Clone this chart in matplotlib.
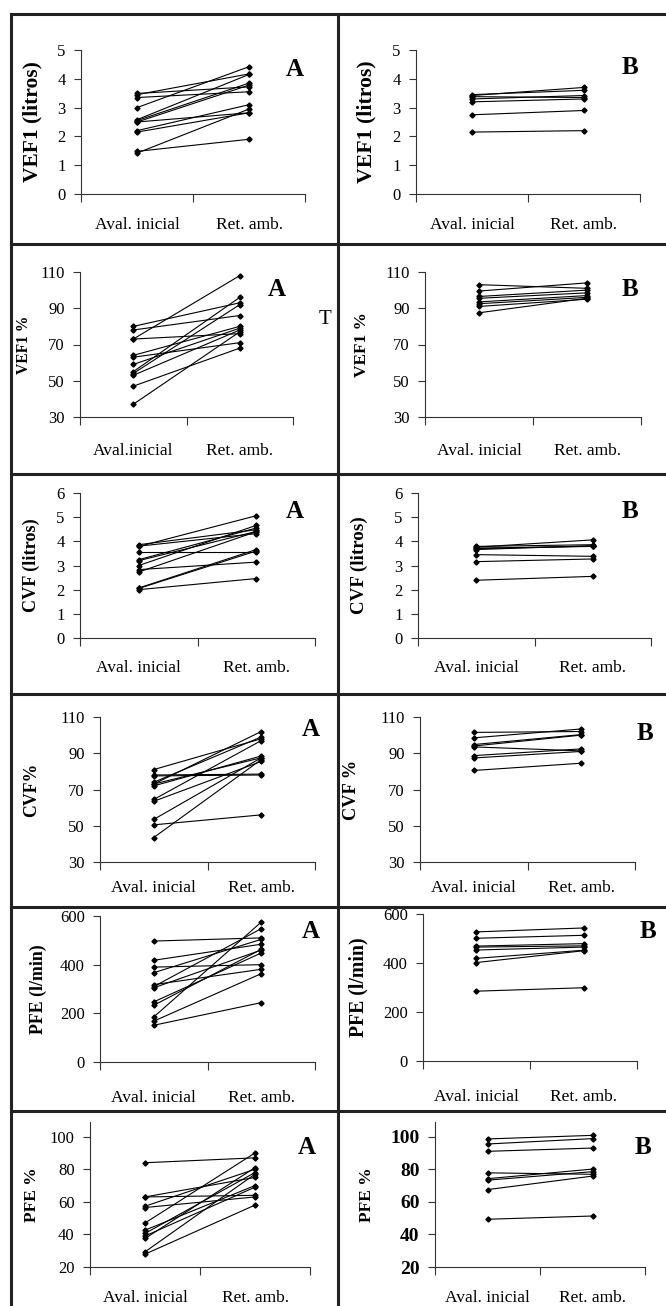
import matplotlib
matplotlib.use("Agg")
import matplotlib.pyplot as plt
from matplotlib.lines import Line2D

# ---------------- data ----------------
categories = ["Aval. inicial", "Ret. amb."]
categories_2a = ["Aval.inicial", "Ret. amb."]

vef1_A_ini = [3.49, 3.45, 3.35, 3.00, 2.58, 2.55, 2.50, 2.50, 2.20, 2.15, 1.48, 1.42]
vef1_A_ret = [3.72, 4.17, 3.55, 4.42, 4.15, 3.85, 3.78, 2.82, 3.10, 2.82, 1.90, 2.95]
vef1_B_ini = [3.45, 3.42, 3.38, 3.30, 3.20, 2.75, 2.15]
vef1_B_ret = [3.60, 3.70, 3.35, 3.42, 3.30, 2.90, 2.20]

vef1p_A_ini = [80, 78, 73, 73, 64, 63, 59, 55, 54, 53, 47, 37]
vef1p_A_ret = [93, 86, 108, 76, 80, 71, 79, 96, 92, 78, 68, 77]
vef1p_B_ini = [103, 99.5, 96.5, 95.5, 93.5, 92.5, 91, 87.5]
vef1p_B_ret = [101, 104, 100, 98.5, 97, 96, 95, 95.5]

cvf_A_ini = [3.86, 3.79, 3.80, 3.56, 3.24, 3.20, 3.00, 2.83, 2.73, 2.07, 2.00, 2.05]
cvf_A_ret = [4.48, 5.06, 4.32, 3.56, 4.55, 4.41, 4.66, 3.14, 4.40, 3.66, 2.46, 3.60]
cvf_B_ini = [3.79, 3.76, 3.72, 3.66, 3.45, 3.16, 2.39, 3.70]
cvf_B_ret = [3.86, 4.06, 3.79, 3.82, 3.38, 3.27, 2.55, 3.80]

cvfp_A_ini = [81, 78, 77.5, 74, 73, 72, 64.5, 63.5, 53.5, 50.5, 43.5, 73]
cvfp_A_ret = [98, 78.5, 78, 99, 102, 88.5, 97, 85.5, 87.5, 56, 86.5, 87.5]
cvfp_B_ini = [101.5, 98.5, 94.8, 94, 93.5, 88.7, 87.4, 80.5]
cvfp_B_ret = [102, 103.4, 100.3, 100, 91.3, 92.4, 91, 84.5]

pfe_A_ini = [497, 418, 390, 367, 318, 310, 305, 247, 233, 185, 168, 151]
pfe_A_ret = [510, 484, 400, 504, 381, 548, 460, 448, 463, 575, 363, 244]
pfe_B_ini = [527, 501, 469, 465, 453, 419, 402, 285]
pfe_B_ret = [543, 513, 479, 470, 465, 452, 450, 299]

pfep_A_ini = [84, 63, 63, 57.3, 56.5, 47, 42.6, 40.6, 39, 37.5, 29.3, 27.9]
pfep_A_ret = [87, 75, 64, 80, 63, 90, 70, 78, 69, 81, 77, 58]
pfep_B_ini = [98.6, 95.5, 91, 77.8, 74.2, 73.3, 67.5, 49.3]
pfep_B_ret = [100.8, 98.8, 93, 76.9, 80.1, 78.5, 75.8, 51.3]

ylabels = ["VEF1 (litros)", "VEF1 %", "CVF (litros)", "CVF%", "PFE (l/min)", "PFE %"]
ylabels_B = ["VEF1 (litros)", "VEF1 %", "CVF (litros)", "CVF %", "PFE (l/min)", "PFE %"]
yticks_rows = [[0, 1, 2, 3, 4, 5], [30, 50, 70, 90, 110], [0, 1, 2, 3, 4, 5, 6],
               [30, 50, 70, 90, 110], [0, 200, 400, 600], [20, 40, 60, 80, 100]]
ylims_rows = [(0, 5), (30, 110), (0, 6), (30, 110), (0, 600), (20, 109)]

# ---------------- layout ----------------
W, H = 666, 1306
fig = plt.figure(figsize=(W / 100, H / 100), dpi=100)
fig.patch.set_facecolor("white")
SERIF = ["Liberation Serif", "DejaVu Serif"]


def px_axes(x0, y0, x1, y1):
    return fig.add_axes([x0 / W, 1 - y1 / H, (x1 - x0) / W, (y1 - y0) / H])


# pixel boxes of each axes (left, top, right, bottom)
boxes = [
    [(81, 50, 305, 194), (416, 50, 640, 194)],
    [(80, 272, 293, 417), (425, 272, 641, 417)],
    [(80, 493, 315, 638), (418, 493, 651, 638)],
    [(100, 717, 315, 862), (420, 717, 635, 862)],
    [(100, 916, 315, 1062), (423, 914, 637, 1061)],
    [(90, 1122, 310, 1267), (435, 1122, 645, 1267)],
]
label_x = [[42, 376], [32, 370], [40, 368], [40, 360], [47, 368], [40, 375]]
label_size = [[15.5, 15.7], [11.2, 12.4], [13.1, 13.7], [12.8, 13.2], [12.9, 14.2], [12.5, 12.5]]
xlab_pad = [16.9, 18.4, 16.2, 13.3, 20.5, 16.2]
letter_pos = [[(295, 70), (630, 68)], [(277, 290), (630, 290)], [(295, 512), (630, 512)],
              [(311, 730), (645, 733)], [(311, 932), (648, 932)], [(307, 1147), (643, 1147)]]

data = [
    [(vef1_A_ini, vef1_A_ret), (vef1_B_ini, vef1_B_ret)],
    [(vef1p_A_ini, vef1p_A_ret), (vef1p_B_ini, vef1p_B_ret)],
    [(cvf_A_ini, cvf_A_ret), (cvf_B_ini, cvf_B_ret)],
    [(cvfp_A_ini, cvfp_A_ret), (cvfp_B_ini, cvfp_B_ret)],
    [(pfe_A_ini, pfe_A_ret), (pfe_B_ini, pfe_B_ret)],
    [(pfep_A_ini, pfep_A_ret), (pfep_B_ini, pfep_B_ret)],
]

axis_col = "#333333"
for r in range(6):
    for c in range(2):
        x0, y0, x1, y1 = boxes[r][c]
        ax = px_axes(x0, y0, x1, y1)
        ini, ret = data[r][c]
        for a, b in zip(ini, ret):
            ax.plot([0, 1], [a, b], color="black", lw=0.8, marker="D", ms=2.6,
                    mec="black", mfc="black", solid_capstyle="butt")
        ax.set_xlim(-0.5, 1.5)
        ax.set_ylim(*ylims_rows[r])
        ax.set_yticks(yticks_rows[r])
        cats = categories_2a if (r == 1 and c == 0) else categories
        ax.set_xticks([0, 1])
        ax.set_xticklabels(cats)
        ax.set_xticks([-0.5, 0.5, 1.5], minor=True)
        ax.tick_params(axis="x", which="major", length=0, pad=xlab_pad[r], labelsize=12.5)
        ax.tick_params(axis="x", which="minor", length=6, width=0.8, color=axis_col, direction="out")
        ax.tick_params(axis="y", length=5, width=0.8, color=axis_col, pad=6, labelsize=12)
        for lab in ax.get_xticklabels() + ax.get_yticklabels():
            lab.set_family(SERIF)
        if r == 5 and c == 1:
            for lab in ax.get_yticklabels():
                lab.set_fontweight("bold")
                lab.set_fontsize(14)
        for s in ["top", "right"]:
            ax.spines[s].set_visible(False)
        for s in ["left", "bottom"]:
            ax.spines[s].set_color(axis_col)
            ax.spines[s].set_linewidth(0.8)
        ax.patch.set_alpha(0)
        ylab = ylabels[r] if c == 0 else ylabels_B[r]
        ax.set_ylabel(ylab, family=SERIF, fontweight="bold", fontsize=label_size[r][c])
        ax.yaxis.set_label_coords((label_x[r][c] - x0) / (x1 - x0), 0.5)
        lx, ly = letter_pos[r][c]
        fig.text(lx / W, 1 - ly / H, "A" if c == 0 else "B", family=SERIF,
                 fontweight="bold", fontsize=18, ha="center", va="center")

# stray "T" next to panel 2A
fig.text(325 / W, 1 - 320 / H, "T", family=SERIF, fontsize=15, ha="center", va="center")

# panel grid borders
lw_b = 2.2
def hline(y, x0=11, x1=666):
    fig.add_artist(Line2D([x0 / W, x1 / W], [1 - y / H, 1 - y / H], color="#222222", lw=lw_b,
                          transform=fig.transFigure))
def vline(x, y0=14, y1=1306):
    fig.add_artist(Line2D([x / W, x / W], [1 - y0 / H, 1 - y1 / H], color="#222222", lw=lw_b,
                          transform=fig.transFigure))

for y in [14, 244, 474, 694, 907, 1111]:
    hline(y)
vline(11)
vline(338)

fig.savefig("out.png", dpi=100)
